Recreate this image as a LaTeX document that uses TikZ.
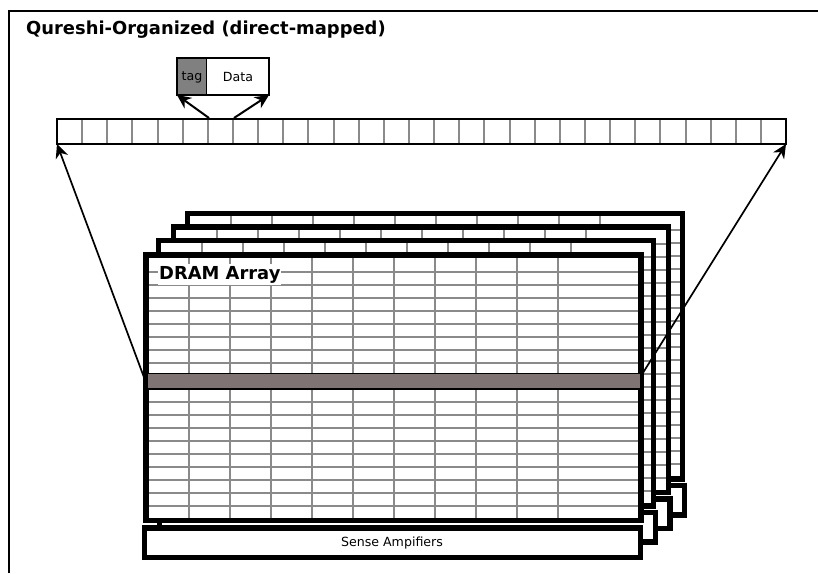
\documentclass[tikz,border=0pt]{standalone}
\usepackage{fontspec}
\setmainfont{DejaVu Sans}
\usetikzlibrary{arrows.meta}
\definecolor{gridgray}{RGB}{138,138,138}
\definecolor{tagfill}{RGB}{128,128,128}
\definecolor{rowbar}{RGB}{128,115,115}
\tikzset{
  x=1pt,y=-1pt,
  thickbox/.style={draw=black,line width=5.6pt,fill=white,inner sep=0pt,outer sep=0pt,anchor=north west},
  gridline/.style={draw=gridgray,line width=2pt},
  cellbox/.style={draw=black,line width=1.6pt,inner sep=0pt,outer sep=0pt,anchor=north west},
  link/.style={draw=black,line width=2pt,-{Stealth[length=14pt,width=13pt,inset=4.5pt]}},
  longlink/.style={draw=black,line width=1.7pt,-{Stealth[length=14pt,width=13pt,inset=4.5pt]}},
  small/.style={font=\fontsize{12.6}{15}\selectfont},
  heading/.style={font=\bfseries\fontsize{17.9}{21}\selectfont},
}
\begin{document}
\begin{tikzpicture}
\useasboundingbox (0,0) rectangle (818,573);
\draw[line width=2.2pt] (9,573) -- (9,11) -- (818,11);
\node[anchor=west,inner sep=0pt,heading] (title) at (26,30) {Qureshi-Organized (direct-mapped)};

% stacked arrays, back to front: index / array left, top / sense right, top
\foreach \i/\L/\T/\SR/\ST in {4/187.5/213.5/684.5/485.5,3/173.5/227/670/499,2/158.5/240.5/655.5/512.5,1/146/255/640.5/528}{
  \pgfmathsetmacro{\SL}{\SR-496}
  \node[thickbox,minimum width=496pt,minimum height=29.5pt] (sense\i) at (\SL,\ST) {};
  \node[thickbox,minimum width=495pt,minimum height=265.5pt] (array\i) at (\L,\T) {};
  \foreach \k in {1,...,10}{
    \draw[gridline] (\L+2+41*\k,\T+2.5) -- (\L+2+41*\k,\T+263);
  }
  \foreach \k in {0,...,18}{
    \draw[gridline] (\L+2.5,\T+16.5+13*\k) -- (\L+492.5,\T+16.5+13*\k);
  }
  \node[thickbox,minimum width=495pt,minimum height=265.5pt,fill=none] at (\L,\T) {};
}
\node[inner sep=0pt,small] (senselabel) at (392,543) {Sense Ampifiers};

\node[cellbox,fill=rowbar,minimum width=493pt,minimum height=15.5pt] (bar) at (147.5,373.5) {};
\node[anchor=west,fill=white,inner xsep=1pt,inner ysep=0pt,minimum height=21pt,heading] (dram) at (158,274.5) {DRAM Array};

% cache row
\node[cellbox,fill=white,minimum width=729pt,minimum height=25pt] (row) at (57,119) {};
\foreach \k in {1,...,28}{
  \draw[gridline] (57+25.14*\k,119.8) -- (57+25.14*\k,143.2);
}
\node[cellbox,fill=tagfill,minimum width=29.5pt,minimum height=37pt] (tag) at (177,58) {};
\node[small] (taglabel) at (192,77.5) {tag};
\node[cellbox,fill=white,minimum width=62.5pt,minimum height=37pt] (data) at (206.5,58) {};
\node[small] (datalabel) at (238,76.5) {Data};

\coordinate (rowa) at (209,118);
\coordinate (rowb) at (234,118);
\coordinate (rowl) at (57,144);
\coordinate (rowr) at (786,144);
\coordinate (barl) at (145,380);
\coordinate (barr) at (641,376);
\draw[link] (rowa) -- (tag.south west);
\draw[link] (rowb) -- (data.south east);
\draw[longlink] (barl) -- (rowl);
\draw[longlink] (barr) -- (rowr);
\end{tikzpicture}
\end{document}
